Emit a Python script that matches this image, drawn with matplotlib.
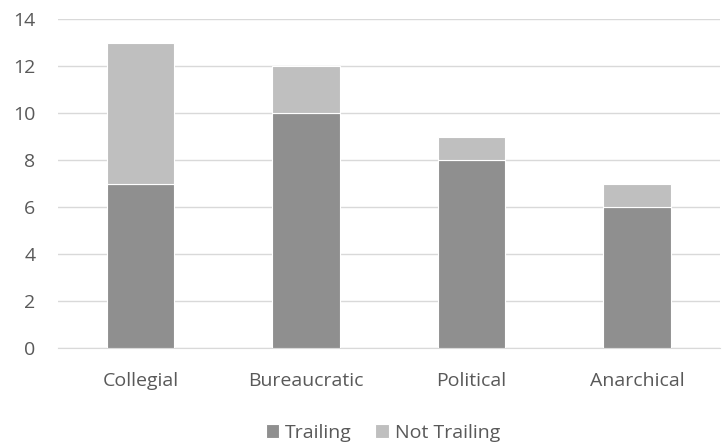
import matplotlib.pyplot as plt
import numpy as np

# chart data
categories = ['Collegial', 'Bureaucratic', 'Political', 'Anarchical']
trailing = [7, 10, 8, 6]
not_trailing = [6, 2, 1, 1]

plt.rcParams['font.family'] = ['Open Sans', 'DejaVu Sans']
text_color = '#595959'

fig = plt.figure(figsize=(7.22, 4.43), dpi=100)
ax = fig.add_axes([0.080, 0.2144, 0.917, 0.7426])

x = np.arange(len(categories))
w = 0.41
ax.bar(x, trailing, w, color='#8f8f8f', edgecolor='white', linewidth=0.8, label='Trailing', zorder=3)
ax.bar(x, not_trailing, w, bottom=trailing, color='#bfbfbf', edgecolor='white', linewidth=0.8,
       label='Not Trailing', zorder=3)

ax.set_xlim(-0.5, len(categories) - 0.5)
ax.set_ylim(0, 14)
ax.set_yticks(range(0, 15, 2))
ax.set_xticks(x)
ax.set_xticklabels(categories)
ax.yaxis.grid(True, color='#d9d9d9', linewidth=1, zorder=0)
for s in ['top', 'right', 'left']:
    ax.spines[s].set_visible(False)
ax.spines['bottom'].set_color('#d9d9d9')
ax.tick_params(axis='both', length=0, labelsize=14, colors=text_color)
ax.tick_params(axis='x', pad=17)
ax.tick_params(axis='y', pad=16)

leg = fig.legend(loc='center', bbox_to_anchor=(0.53, 0.023), ncol=2, frameon=False, fontsize=14,
                 handlelength=0.7, handleheight=0.7, handletextpad=0.3, columnspacing=1.2)
for t in leg.get_texts():
    t.set_color(text_color)

fig.savefig('out.png', dpi=100)
